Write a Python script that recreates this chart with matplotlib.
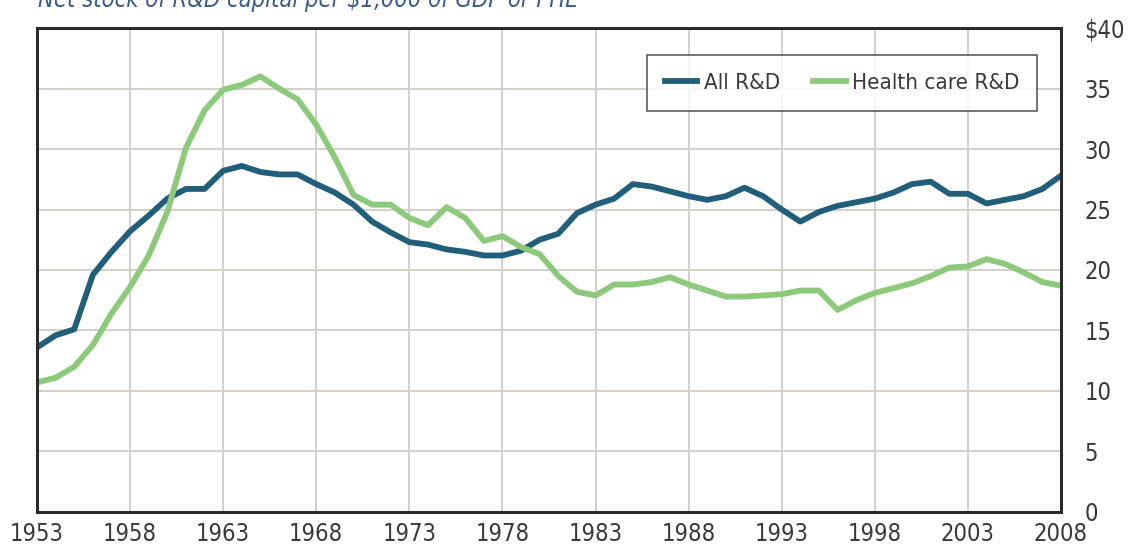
import matplotlib
matplotlib.use("Agg")
import matplotlib.pyplot as plt
import numpy as np

years = np.arange(1953, 2009)

all_rd = [
    13.6, 14.6, 15.1, 19.6, 21.5, 23.2, 24.5, 25.9, 26.7, 26.7,
    28.2, 28.6, 28.1, 27.9, 27.9, 27.1, 26.4, 25.4, 24.0, 23.1,
    22.3, 22.1, 21.7, 21.5, 21.2, 21.2, 21.6, 22.5, 23.0, 24.7,
    25.4, 25.9, 27.1, 26.9, 26.5, 26.1, 25.8, 26.1, 26.8, 26.1,
    25.0, 24.0, 24.8, 25.3, 25.6, 25.9, 26.4, 27.1, 27.3, 26.3,
    26.3, 25.5, 25.8, 26.1, 26.7, 27.8,
]
health_rd = [
    10.7, 11.1, 12.0, 13.8, 16.4, 18.6, 21.2, 24.8, 30.1, 33.2,
    34.9, 35.3, 36.0, 35.0, 34.1, 32.0, 29.3, 26.2, 25.4, 25.4,
    24.3, 23.7, 25.2, 24.3, 22.4, 22.8, 21.9, 21.3, 19.5, 18.2,
    17.9, 18.8, 18.8, 19.0, 19.4, 18.8, 18.3, 17.8, 17.8, 17.9,
    18.0, 18.3, 18.3, 16.7, 17.5, 18.1, 18.5, 18.9, 19.5, 20.2,
    20.3, 20.9, 20.5, 19.8, 19.0, 18.7,
]
x_ticks = list(range(1953, 2009, 5))
y_ticks = [0, 5, 10, 15, 20, 25, 30, 35, 40]
y_labels = ["0", "5", "10", "15", "20", "25", "30", "35", "$40"]
title = "Net stock of R&D capital per $1,000 of GDP or PHE"

BLUE = "#215e79"
GREEN = "#8dc97b"
GRID = "#d3d0cb"
TEXT = "#3a3a3a"

plt.rcParams["font.family"] = ["DejaVu Sans"]
plt.rcParams["font.stretch"] = "condensed"

fig = plt.figure(figsize=(11.28, 5.46), dpi=100)
ax = fig.add_axes([0.0328, 0.0623, 0.9078, 0.8864])

ax.plot(years, all_rd, color=BLUE, linewidth=4.2, label="All R&D", solid_joinstyle="round")
ax.plot(years, health_rd, color=GREEN, linewidth=4.2, label="Health care R&D", solid_joinstyle="round")

ax.set_xlim(1953, 2008)
ax.set_ylim(0, 40)
ax.set_xticks(x_ticks)
ax.set_yticks(y_ticks)
ax.set_yticklabels(y_labels)
ax.yaxis.tick_right()
ax.tick_params(axis="both", length=0, labelsize=17, colors=TEXT)
ax.tick_params(axis="y", pad=17)
ax.tick_params(axis="x", pad=7)
for lbl in ax.get_yticklabels():
    lbl.set_horizontalalignment("left")

ax.grid(True, color=GRID, linewidth=1.4)
ax.set_axisbelow(True)
for side in ax.spines.values():
    side.set_linewidth(2.2)
    side.set_color("#2a2a2a")

leg = ax.legend(
    loc="upper right",
    bbox_to_anchor=(0.977, 0.944),
    borderaxespad=0.0,
    ncol=2,
    fontsize=16,
    frameon=True,
    fancybox=False,
    edgecolor="#333333",
    handlelength=1.45,
    handletextpad=0.3,
    columnspacing=1.5,
    borderpad=0.8,
)
leg.get_frame().set_linewidth(1.2)
for t in leg.get_texts():
    t.set_color(TEXT)

fig.text(0.034, 1.0, title, fontsize=17, style="italic", color="#3b5a86",
         ha="left", va="center")

fig.savefig("out.png", dpi=100)
